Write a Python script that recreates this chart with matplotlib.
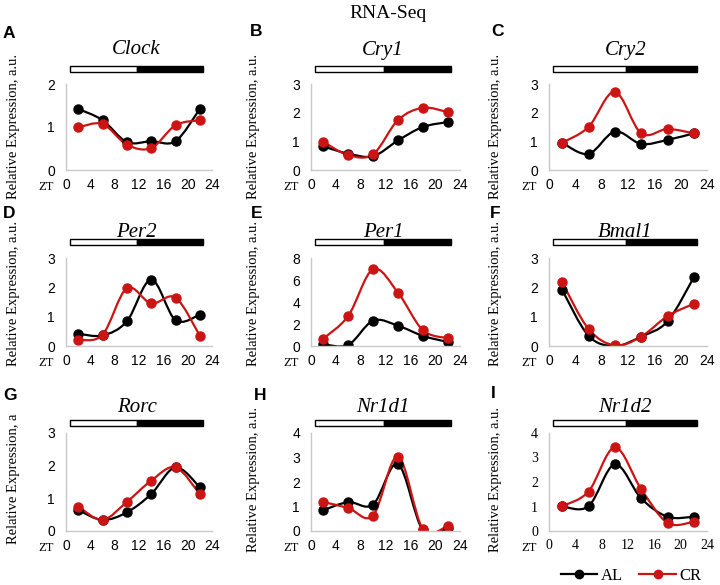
import numpy as np
import matplotlib
matplotlib.use('Agg')
import matplotlib.pyplot as plt
from matplotlib.path import Path
from matplotlib.patches import PathPatch, Rectangle
from matplotlib.lines import Line2D
from matplotlib.transforms import blended_transform_factory

# sampling times (ZT) and expression values
zt = [2, 6, 10, 14, 18, 22]

clock_al = [1.42, 1.16, 0.65, 0.67, 0.67, 1.42]
clock_cr = [0.99, 1.07, 0.59, 0.51, 1.04, 1.16]
cry1_al = [0.82, 0.57, 0.48, 1.03, 1.50, 1.67]
cry1_cr = [0.98, 0.52, 0.55, 1.74, 2.17, 2.02]
cry2_al = [0.95, 0.56, 1.34, 0.91, 1.05, 1.28]
cry2_cr = [0.95, 1.50, 2.73, 1.28, 1.43, 1.28]
per2_al = [0.42, 0.36, 0.84, 2.26, 0.88, 1.07]
per2_cr = [0.21, 0.38, 1.97, 1.45, 1.65, 0.35]
per1_al = [0.15, 0.10, 2.30, 1.85, 0.92, 0.37]
per1_cr = [0.68, 2.74, 6.98, 4.86, 1.45, 0.71]
bmal1_al = [1.91, 0.35, 0.00, 0.32, 0.84, 2.34]
bmal1_cr = [2.17, 0.58, 0.02, 0.32, 1.02, 1.44]
rorc_al = [0.64, 0.34, 0.57, 1.13, 1.95, 1.34]
rorc_cr = [0.75, 0.34, 0.89, 1.54, 1.95, 1.13]
nr1d1_al = [0.85, 1.18, 1.08, 2.73, 0.04, 0.13]
nr1d1_cr = [1.18, 0.94, 0.63, 3.04, 0.09, 0.20]
nr1d2_al = [1.01, 1.01, 2.72, 1.33, 0.58, 0.58]
nr1d2_cr = [1.01, 1.61, 3.41, 1.71, 0.33, 0.38]

genes = ['Clock', 'Cry1', 'Cry2', 'Per2', 'Per1', 'Bmal1', 'Rorc', 'Nr1d1', 'Nr1d2']
letters = ['A', 'B', 'C', 'D', 'E', 'F', 'G', 'H', 'I']
al_series = [clock_al, cry1_al, cry2_al, per2_al, per1_al, bmal1_al, rorc_al, nr1d1_al, nr1d2_al]
cr_series = [clock_cr, cry1_cr, cry2_cr, per2_cr, per1_cr, bmal1_cr, rorc_cr, nr1d1_cr, nr1d2_cr]
y_max = [2, 3, 3, 3, 8, 3, 3, 4, 4]
y_step = [1, 1, 1, 1, 2, 1, 1, 1, 1]
x_ticks = [0, 4, 8, 12, 16, 20, 24]

W, H = 720, 585
SERIF = 'Liberation Serif'
SANS = 'Liberation Sans'
BLACK = '#000000'
RED = '#CC1414'

# layout in pixels
col_px = [(66, 212), (311, 460), (549, 707)]
row_px = [(84, 170), (258, 346), (433, 531)]
title_y = [50, 233, 408]
bar_y = [69, 242, 423]
ylab_x = [14, 254, 495]
ylab_y = [126, 293, 479]
letter_px = [(9, 33), (256, 32), (497, 32), (9, 213), (257, 214), (495, 214),
             (10, 395), (260, 395), (493, 394)]


def fx(px):
    return px / W


def fy(py):
    return 1 - py / H


def smooth_path(x, y):
    # Catmull-Rom style bezier through the points (Excel smoothed line)
    pts = np.column_stack([x, y]).astype(float)
    n = len(pts)
    verts = [pts[0]]
    codes = [Path.MOVETO]
    for i in range(n - 1):
        p0 = pts[max(i - 1, 0)]
        p1 = pts[i]
        p2 = pts[i + 1]
        p3 = pts[min(i + 2, n - 1)]
        verts += [p1 + (p2 - p0) / 6, p2 - (p3 - p1) / 6, p2]
        codes += [Path.CURVE4] * 3
    return Path(verts, codes)


fig = plt.figure(figsize=(W / 100, H / 100), dpi=100)
fig.text(fx(388), fy(14), 'RNA-Seq', family=SERIF, fontsize=14, ha='center', va='center')

for k in range(9):
    r, c = divmod(k, 3)
    left, right = col_px[c]
    top, bottom = row_px[r]
    ax = fig.add_axes([fx(left), fy(bottom), (right - left) / W, (bottom - top) / H])
    ax.set_xlim(0, 24)
    ax.set_ylim(0, y_max[k])
    ax.set_xticks(x_ticks)
    ax.set_yticks(np.arange(0, y_max[k] + 0.01, y_step[k]))
    tick_family = SERIF if k == 8 else SANS
    ax.tick_params(length=0, labelsize=10, pad=6)
    ax.tick_params(axis='y', pad=8)
    for lab in ax.get_xticklabels() + ax.get_yticklabels():
        lab.set_family(tick_family)
    for side in ['top', 'right']:
        ax.spines[side].set_visible(False)
    for side in ['left', 'bottom']:
        ax.spines[side].set_color('#C8C8C8')
        ax.spines[side].set_linewidth(1)

    for vals, col in [(al_series[k], BLACK), (cr_series[k], RED)]:
        ax.add_patch(PathPatch(smooth_path(zt, vals), fill=False, edgecolor=col, lw=1.6))
        ax.plot(zt, vals, 'o', color=col, ms=6.5, ls='none')

    # light/dark bar and gene name
    tr = blended_transform_factory(ax.transData, fig.transFigure)
    bh = 6 / H
    by = fy(bar_y[r]) - bh / 2
    ax.add_patch(Rectangle((0.6, by), 11.1, bh, transform=tr, facecolor='white',
                           edgecolor='black', lw=1, clip_on=False))
    ax.add_patch(Rectangle((11.7, by), 10.8, bh, transform=tr, facecolor='black',
                           edgecolor='black', lw=1, clip_on=False))
    ax.text(11.6, fy(title_y[r]), genes[k], transform=tr, family=SERIF, style='italic',
            fontsize=15, ha='center', va='center')

    ax.annotate('ZT', xy=(0, 0), xycoords='axes fraction', xytext=(-20, -17),
                textcoords='offset pixels', family=SERIF, fontsize=9,
                ha='center', va='center')

    ylabel = 'Relative Expression, a' if k == 6 else 'Relative Expression, a.u.'
    fig.text(fx(ylab_x[c]), fy(ylab_y[r]), ylabel, family=SERIF, fontsize=10.5,
             rotation=90, ha='center', va='center')

    lx, ly = letter_px[k]
    fig.text(fx(lx), fy(ly), letters[k], family=SANS, weight='bold', fontsize=12.5,
             ha='center', va='center')

handles = [Line2D([], [], color=BLACK, marker='o', ms=6, lw=1.6),
           Line2D([], [], color=RED, marker='o', ms=6, lw=1.6)]
fig.legend(handles, ['AL', 'CR'], loc='center', bbox_to_anchor=(fx(631), fy(576)),
           ncol=2, frameon=False, handlelength=2.2, handletextpad=0.2, columnspacing=1.0,
           prop={'family': SERIF, 'size': 12})

fig.savefig('out.png', dpi=100)
